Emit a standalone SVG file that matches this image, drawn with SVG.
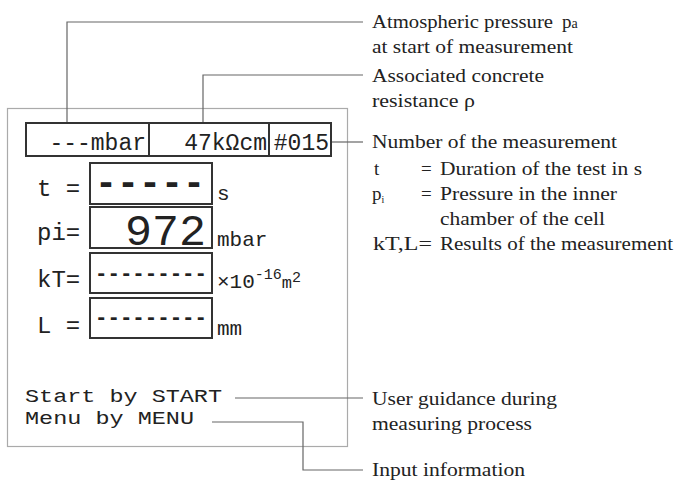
<svg xmlns="http://www.w3.org/2000/svg" width="678" height="480" viewBox="0 0 678 480">
<style>
.lcd{font-family:"Liberation Mono","DejaVu Sans Mono",monospace;fill:#222}
.cap{font-family:"Liberation Serif","Times New Roman",serif;font-size:19px;fill:#222}
.box{fill:none;stroke:#333;stroke-width:2}
.con{fill:none;stroke:#666;stroke-width:1.2}
</style>
<rect x="0" y="0" width="678" height="480" fill="#fff"/>
<g id="panel">
<rect x="7.5" y="108.5" width="340" height="338" fill="none" stroke="#aaa" stroke-width="1.2"/>
</g>
<g id="connectors">
<polyline class="con" points="67,123 67,22 363,22"/>
<polyline class="con" points="203,123 203,75 363,75"/>
<line class="con" x1="331" y1="142" x2="363" y2="142"/>
<line class="con" x1="235" y1="398" x2="363" y2="398"/>
<polyline class="con" points="212,422 303,422 303,470 363,470"/>
</g>
<g id="header-row">
<rect class="box" x="26" y="123" width="305" height="33"/>
<line class="box" x1="149" y1="123" x2="149" y2="156"/>
<line class="box" x1="269" y1="123" x2="269" y2="156"/>
<text class="lcd" x="146" y="150" font-size="23" text-anchor="end">---mbar</text>
<text class="lcd" x="267" y="150" font-size="23" text-anchor="end">47kΩcm</text>
<text class="lcd" x="329" y="150" font-size="23" text-anchor="end">#015</text>
</g>
<g id="row-t">
<text class="lcd" x="37" y="196" font-size="24">t =</text>
<rect class="box" x="90" y="163" width="122" height="41"/>
<text class="lcd" x="95" y="195" font-size="40" textLength="110" lengthAdjust="spacingAndGlyphs" font-weight="bold">-----</text>
<text class="lcd" x="217" y="200" font-size="21">s</text>
</g>
<g id="row-pi">
<text class="lcd" x="37" y="240" font-size="24">pi=</text>
<rect class="box" x="90" y="207" width="122" height="41"/>
<text class="lcd" x="206" y="245" font-size="45" text-anchor="end">972</text>
<text class="lcd" x="217" y="246" font-size="21">mbar</text>
</g>
<g id="row-kT">
<text class="lcd" x="37" y="287" font-size="24">kT=</text>
<rect class="box" x="90" y="253" width="122" height="40"/>
<text class="lcd" x="95" y="280" font-size="22" textLength="112" lengthAdjust="spacingAndGlyphs" font-weight="bold">---------</text>
<text class="lcd" x="217" y="288" font-size="21">×10<tspan font-size="15" dy="-9">-16</tspan><tspan font-size="17" dy="9">m</tspan><tspan font-size="15" dy="-6">2</tspan></text>
</g>
<g id="row-L">
<text class="lcd" x="37" y="333" font-size="24">L =</text>
<rect class="box" x="90" y="298" width="122" height="40"/>
<text class="lcd" x="95" y="324" font-size="22" textLength="112" lengthAdjust="spacingAndGlyphs" font-weight="bold">---------</text>
<text class="lcd" x="217" y="335" font-size="21">mm</text>
</g>
<g id="guidance">
<text class="lcd" x="25" y="402" font-size="19" textLength="197" lengthAdjust="spacingAndGlyphs">Start by START</text>
<text class="lcd" x="25" y="424" font-size="19" textLength="169" lengthAdjust="spacingAndGlyphs">Menu by MENU</text>
</g>
<g id="captions">
<text class="cap" x="372" y="28"><tspan textLength="181" lengthAdjust="spacingAndGlyphs">Atmospheric pressure</tspan><tspan x="562">p</tspan><tspan font-size="14">a</tspan></text>
<text class="cap" x="372" y="53" textLength="201" lengthAdjust="spacingAndGlyphs">at start of measurement</text>
<text class="cap" x="372" y="82" textLength="172" lengthAdjust="spacingAndGlyphs">Associated concrete</text>
<text class="cap" x="372" y="107" textLength="103" lengthAdjust="spacingAndGlyphs">resistance ρ</text>
<text class="cap" x="372" y="148" textLength="245" lengthAdjust="spacingAndGlyphs">Number of the measurement</text>
<text class="cap" x="374" y="175">t</text>
<text class="cap" x="421" y="175">=</text>
<text class="cap" x="440" y="175" textLength="202" lengthAdjust="spacingAndGlyphs">Duration of the test in s</text>
<text class="cap" x="372" y="200">p<tspan font-size="10" dy="3">i</tspan></text>
<text class="cap" x="421" y="200">=</text>
<text class="cap" x="440" y="200" textLength="177" lengthAdjust="spacingAndGlyphs">Pressure in the inner</text>
<text class="cap" x="440" y="225" textLength="165" lengthAdjust="spacingAndGlyphs">chamber of the cell</text>
<text class="cap" x="373" y="250" textLength="59" lengthAdjust="spacingAndGlyphs">kT,L=</text>
<text class="cap" x="440" y="250" textLength="233" lengthAdjust="spacingAndGlyphs">Results of the measurement</text>
<text class="cap" x="372" y="405" textLength="185" lengthAdjust="spacingAndGlyphs">User guidance during</text>
<text class="cap" x="372" y="430" textLength="160" lengthAdjust="spacingAndGlyphs">measuring process</text>
<text class="cap" x="372" y="476" textLength="153" lengthAdjust="spacingAndGlyphs">Input information</text>
</g>
</svg>
